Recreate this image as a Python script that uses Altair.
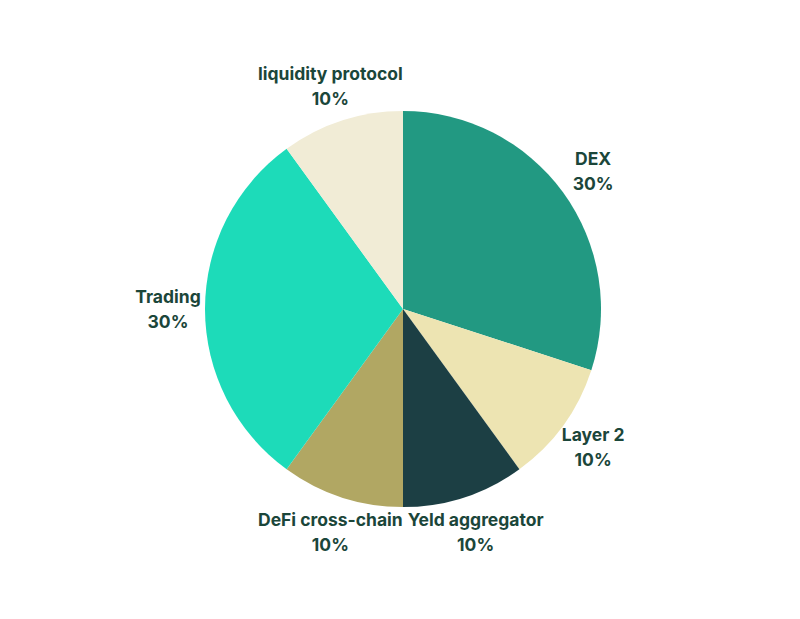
import altair as alt
import pandas as pd

categories = ["DEX", "Layer 2", "Yeld aggregator", "DeFi cross-chain", "Trading", "liquidity protocol"]
values = [30, 10, 10, 10, 30, 10]
colors = ["#229982", "#ede4b2", "#1c3f44", "#b1a763", "#1ddbb9", "#f1ecd6"]

df = pd.DataFrame({
    "category": categories,
    "value": values,
    "idx": list(range(len(categories))),
    "label": [f"{c}\n{v}%" for c, v in zip(categories, values)],
})

base = alt.Chart(df).encode(
    theta=alt.Theta("value:Q", stack=True),
    order=alt.Order("idx:Q"),
)

arcs = base.mark_arc(outerRadius=198, stroke=None).encode(
    color=alt.Color("category:N", scale=alt.Scale(domain=categories, range=colors), legend=None)
)

text = base.mark_text(
    radius=235, dy=-11, font="Inter", fontSize=17.5, fontWeight="bold", color="#1b463a",
    lineBreak="\n", lineHeight=25, align="center", baseline="middle"
).encode(text="label:N")

chart = (arcs + text).properties(
    width=760, height=592,
    padding={"left": 15, "top": 5, "right": 5, "bottom": 5},
).configure_view(stroke=None)

chart.save("out.html", embed_options={"renderer": "svg", "actions": False})
